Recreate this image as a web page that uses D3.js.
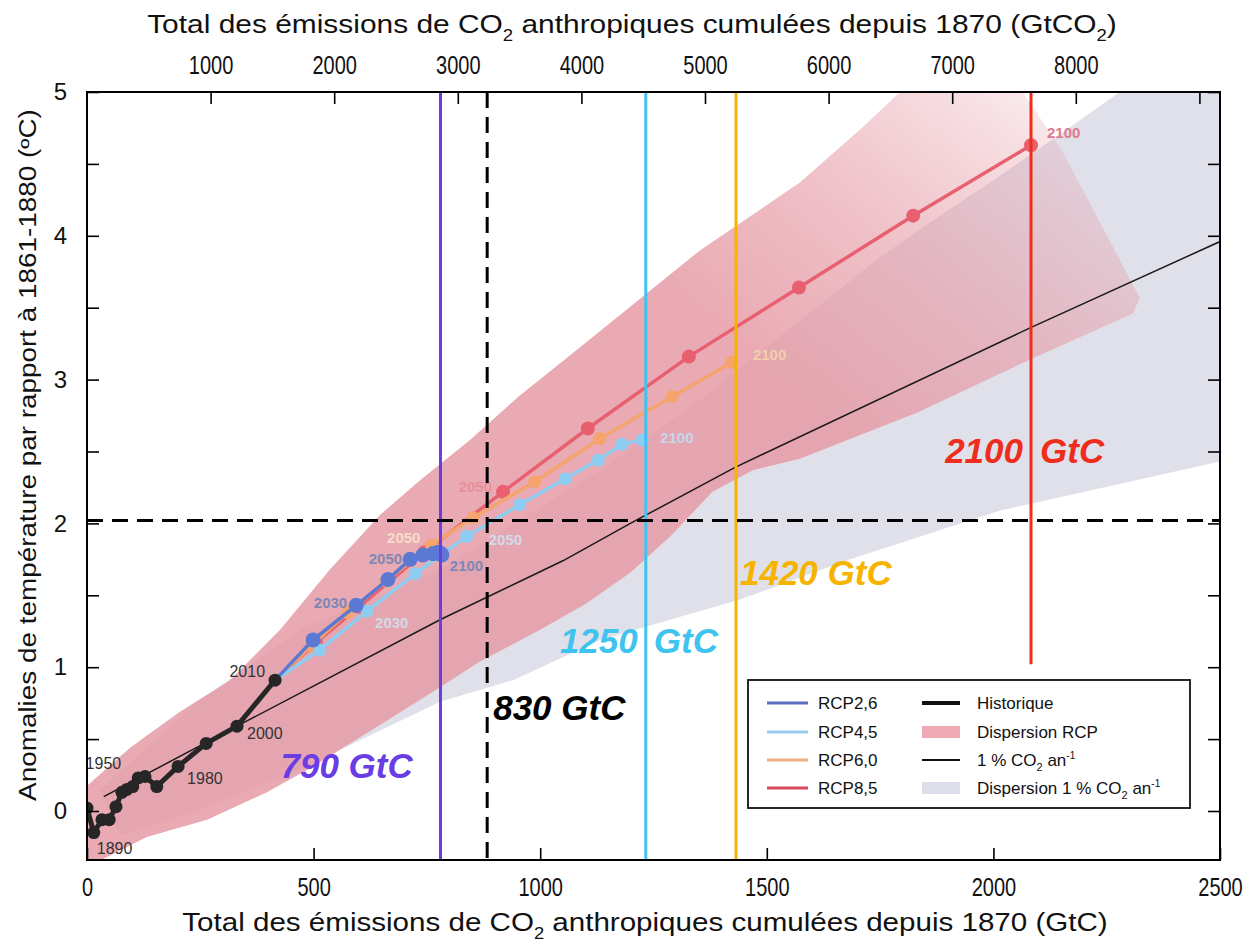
<!DOCTYPE html>
<html><head><meta charset="utf-8">
<script src="https://cdn.jsdelivr.net/npm/d3@7"></script>
<style>
body{margin:0;background:#fff;}
svg text{font-family:"Liberation Sans",Arial,sans-serif;}
</style></head><body>
<svg id="c" width="1258" height="948"></svg>
<script>
// ---------- DATA ----------
const xTicks=[0,500,1000,1500,2000,2500];
const yTicks=[0,1,2,3,4,5];
const yMinor=[0.5,1.5,2.5,3.5,4.5];
const co2Ticks=[1000,2000,3000,4000,5000,6000,7000,8000,9000];
const co2Labels=[1000,2000,3000,4000,5000,6000,7000,8000];

const histX=[0,15,33,49,64,77,88,101,113,128,154,201,263,331,415];
const histY=[0.02,-0.15,-0.06,-0.06,0.03,0.13,0.15,0.17,0.23,0.24,0.17,0.31,0.47,0.59,0.91];
const histLabelIdx=[1,8,11,13,14];
const histLabelTxt=['1890','1950','1980','2000','2010'];

const rcpYears=[2010,2020,2030,2040,2050,2060,2070,2080,2090,2100];
const rcp26X=[415,499,594,664,713,741,764,775,781,783];
const rcp26Y=[0.91,1.19,1.43,1.61,1.75,1.78,1.79,1.80,1.79,1.78];
const rcp45X=[415,514,618,724,838,955,1055,1128,1180,1225];
const rcp45Y=[0.91,1.12,1.39,1.65,1.91,2.13,2.31,2.44,2.55,2.58];
const rcp60X=[415,495,575,660,760,852,988,1132,1291,1423];
const rcp60Y=[0.91,1.15,1.38,1.60,1.85,2.04,2.29,2.59,2.88,3.12];
const rcp85X=[415,505,600,745,918,1105,1328,1571,1823,2083];
const rcp85Y=[0.91,1.17,1.42,1.80,2.22,2.66,3.16,3.64,4.14,4.63];

const onePctX=[37,331,779,1050,1205,1430,2081,2500];
const onePctY=[0.10,0.59,1.33,1.74,2.01,2.39,3.36,3.96];

// RCP dispersion plume (upper edge then lower edge back)
const rcpBandUpper=[[2,0.18],[95,0.44],[205,0.69],[316,0.91],[426,1.26],[536,1.68],[647,2.06],[735,2.30],[845,2.58],[955,2.89],[1066,3.17],[1176,3.45],[1353,3.90],[1573,4.37],[1706,4.74],[1794,5.0],[1900,5.3],[2000,5.3],[2150,4.6]];
const rcpBandLower=[[2323,3.57],[2308,3.46],[2081,3.14],[1831,2.77],[1573,2.45],[1469,2.37],[1380,2.22],[1290,1.92],[1200,1.66],[1100,1.44],[1000,1.26],[867,1.04],[779,0.86],[647,0.60],[499,0.31],[397,0.13],[265,-0.06],[132,-0.18],[44,-0.32],[18,-0.36],[2,-0.36]];
// 1% CO2 dispersion plume
const pctBandUpper=[[29,0.15],[249,0.77],[470,1.26],[779,1.68],[1132,2.37],[1353,2.86],[1573,3.41],[1750,3.85],[1882,4.14],[2015,4.42],[2162,4.74],[2279,5.0],[2500,5.0]];
const pctBandLower=[[2500,2.43],[2015,2.09],[1684,1.75],[1441,1.47],[1132,1.19],[940,0.91],[779,0.76],[647,0.56],[470,0.29],[249,0.01],[73,-0.17]];

const refValues=[780,883,1233,1432,2083];
const refNums=['790','830','1250','1420','2100'];
const refColors=['#6a3ce4','#000000','#3fc3ef','#f6b400','#ef2d1c'];
const refTopT=[5,5,5,5,5];
const refBottomT=[-0.34,-0.34,-0.34,-0.34,1.02];
const hLineT=2.02;

// ---------- SETUP ----------
const svg=d3.select('#c');
const L=87,R=1220,T=92,B=860;
const x=d3.scaleLinear().domain([0,2500]).range([L,R]);
const y=d3.scaleLinear().domain([0,5]).range([811,92]);
const xCO2=d3.scaleLinear().domain([0,2500*44/12]).range([L,R]);

const defs=svg.append('defs');
defs.append('clipPath').attr('id','clip').append('rect').attr('x',L).attr('y',T).attr('width',R-L).attr('height',B-T);
const grad=defs.append('linearGradient').attr('id','fade').attr('gradientUnits','userSpaceOnUse')
  .attr('x1',760).attr('y1',360).attr('x2',1010).attr('y2',60);
[[0,0.85],[0.45,0.62],[0.85,0.32],[1,0.18]].forEach(s=>grad.append('stop').attr('offset',s[0]).attr('stop-color','#e69ba6').attr('stop-opacity',s[1]));

const plot=svg.append('g').attr('clip-path','url(#clip)');
const poly=d3.line().x(d=>x(d[0])).y(d=>y(d[1])).curve(d3.curveLinearClosed);

plot.append('path').attr('d',poly(pctBandUpper.concat(pctBandLower))).attr('fill','#dfe0ea');
plot.append('path').attr('d',poly(rcpBandUpper.concat(rcpBandLower))).attr('fill','url(#fade)');

// 1% line
const ln=d3.line().x(d=>x(d[0])).y(d=>y(d[1]));
plot.append('path').attr('d',ln(onePctX.map((v,i)=>[v,onePctY[i]]))).attr('fill','none').attr('stroke','#1a1a1a').attr('stroke-width',1.5);

// RCP series
const series=[
 {X:rcp85X,Y:rcp85Y,c:'#e8606f',r:7,w:3.5},
 {X:rcp60X,Y:rcp60Y,c:'#f4a46c',r:6.5,w:3.5},
 {X:rcp45X,Y:rcp45Y,c:'#8ecdf2',r:6.5,w:3.5},
 {X:rcp26X,Y:rcp26Y,c:'#5b79d2',r:7.5,w:3.5}
];
series.forEach(s=>{
  const pts=s.X.map((v,i)=>[v,s.Y[i]]);
  const g=plot.append('g');
  g.append('path').attr('d',ln(pts)).attr('fill','none').attr('stroke',s.c).attr('stroke-width',s.w);
  g.selectAll('circle').data(pts.slice(1)).join('circle').attr('cx',d=>x(d[0])).attr('cy',d=>y(d[1])).attr('r',s.r).attr('fill',s.c);
});
// historical
const hp=histX.map((v,i)=>[v,histY[i]]);
plot.append('path').attr('d',ln(hp)).attr('fill','none').attr('stroke','#262626').attr('stroke-width',5).attr('stroke-linejoin','round');
plot.selectAll('circle.h').data(hp).join('circle').attr('class','h').attr('cx',d=>x(d[0])).attr('cy',d=>y(d[1])).attr('r',6.5).attr('fill','#262626');

// year labels
function yearLabel(px,py,txt,anchor,dx,dy,col,bold,fs){
  svg.append('text').attr('x',px+dx).attr('y',py+dy).attr('text-anchor',anchor).attr('font-size',fs||15)
    .attr('font-weight',bold?'bold':'normal').attr('fill',col).text(txt);
}
const histOff=[['start',3,21],['end',-17,-9],['start',9,18],['start',10,13],['end',-10,-3]];
histLabelIdx.forEach((idx,k)=>yearLabel(x(histX[idx]),y(histY[idx]),histLabelTxt[k],histOff[k][0],histOff[k][1],histOff[k][2],'#333',false,16));
function rcpLabel(X,Y,yr,anchor,dx,dy,col){const i=rcpYears.indexOf(yr);yearLabel(x(X[i]),y(Y[i]),String(yr),anchor,dx,dy,col,true,15);}
rcpLabel(rcp26X,rcp26Y,2030,'end',-9,3,'#7e87b8');
rcpLabel(rcp26X,rcp26Y,2050,'end',-8,5,'#7e87b8');
rcpLabel(rcp26X,rcp26Y,2100,'start',8,16,'#7e87b8');
rcpLabel(rcp45X,rcp45Y,2030,'start',8,17,'#d3d9e8');
rcpLabel(rcp45X,rcp45Y,2050,'start',22,9,'#d3d9e8');
rcpLabel(rcp45X,rcp45Y,2100,'start',18,3,'#c6d6ea');
rcpLabel(rcp60X,rcp60Y,2050,'end',-11,-2,'#f6dccb');
rcpLabel(rcp60X,rcp60Y,2100,'start',21,-2,'#f3cfae');
rcpLabel(rcp85X,rcp85Y,2050,'end',-11,0,'#e8909a');
rcpLabel(rcp85X,rcp85Y,2100,'start',16,-7,'#e2788a');

// reference lines
refValues.forEach((v,i)=>{
  svg.append('line').attr('x1',x(v)).attr('x2',x(v)).attr('y1',y(refTopT[i])).attr('y2',y(refBottomT[i]))
   .attr('stroke',refColors[i]).attr('stroke-width',3)
   .attr('stroke-dasharray',i===1?'16,9':null);
});
svg.append('line').attr('x1',L).attr('x2',R).attr('y1',y(hLineT)).attr('y2',y(hLineT)).attr('stroke','#000').attr('stroke-width',3).attr('stroke-dasharray','16,9');

// reference labels (bold italic)
function bigLabel(xx,yy,txt,col,anchor){svg.append('text').attr('x',xx).attr('y',yy).attr('text-anchor',anchor||'start').attr('font-size',35).attr('font-weight','bold').attr('font-style','italic').attr('fill',col).text(txt);}
bigLabel(x(refValues[0])-160,778,refNums[0]+' GtC',refColors[0]);
bigLabel(x(refValues[1])+6,720,refNums[1]+' GtC',refColors[1]);
bigLabel(x(refValues[2])-8,653,refNums[2],refColors[2],'end');
bigLabel(x(refValues[2])+8,653,'GtC',refColors[2]);
bigLabel(x(refValues[3])+4,585,refNums[3]+' GtC',refColors[3]);
bigLabel(x(refValues[4])-8,463,refNums[4],refColors[4],'end');
bigLabel(x(refValues[4])+9,463,'GtC',refColors[4]);

// ---------- AXES ----------
function styleAxis(g){g.select('.domain').remove();g.selectAll('line').attr('stroke','#000').attr('stroke-width',1.6);}
const axB=svg.append('g').attr('transform',`translate(0,${B})`).call(d3.axisBottom(x).tickValues(xTicks).tickSize(-12).tickPadding(18).tickFormat(d3.format('d')));
const axT=svg.append('g').attr('transform',`translate(0,${T})`).call(d3.axisTop(xCO2).tickValues(co2Ticks).tickSize(-12).tickPadding(18).tickFormat(d=>co2Labels.includes(d)?d:''));
const axL=svg.append('g').attr('transform',`translate(${L},0)`).call(d3.axisLeft(y).tickValues(yTicks).tickSize(-12).tickPadding(20).tickFormat(d3.format('d')));
const axL2=svg.append('g').attr('transform',`translate(${L},0)`).call(d3.axisLeft(y).tickValues(yMinor).tickSize(-12).tickFormat(''));
const axR=svg.append('g').attr('transform',`translate(${R},0)`).call(d3.axisRight(y).tickValues(yTicks.concat(yMinor)).tickSize(-12).tickFormat(''));
[axB,axT,axL,axL2,axR].forEach(styleAxis);
[axB,axT].forEach(a=>a.selectAll('text').attr('font-size',25).attr('fill','#111').attr('transform','scale(0.8,1)').attr('x',0));
axL.selectAll('text').attr('font-size',24).attr('fill','#111');
svg.append('rect').attr('x',L).attr('y',T).attr('width',R-L).attr('height',B-T).attr('fill','none').attr('stroke','#000').attr('stroke-width',2);

// titles with subscripts
function rich(parts,size){
  const t=svg.append('text').attr('font-size',size).attr('fill','#111').attr('text-anchor','middle');
  parts.forEach(p=>{
    const s=t.append('tspan').text(p[0]);
    if(p[1]==='sub')s.attr('font-size',size*0.62).attr('dy',size*0.3);
    else if(p[1]==='back')s.attr('dy',-size*0.3);
  });
  return t;
}
function place(t,cx,cy,w,rot){
  t.attr('x',0).attr('y',0);
  const bw=t.node().getBBox().width;
  const k=w/bw;
  t.attr('transform',`translate(${cx},${cy})${rot?' rotate(-90)':''} scale(${k},1)`);
}
const tBot=rich([['Total des émissions de CO'],['2','sub'],[' anthropiques cumulées depuis 1870 (GtC)','back']],26);
place(tBot,645,931,926);
const tTop=rich([['Total des émissions de CO'],['2','sub'],[' anthropiques cumulées depuis 1870 (GtCO','back'],['2','sub'],[')','back']],26);
place(tTop,632,33,970);
const tY=rich([['Anomalies de température par rapport à 1861-1880 (ºC)']],23);
place(tY,36,455,692,true);

// ---------- LEGEND ----------
const lg=svg.append('g');
lg.append('rect').attr('x',748).attr('y',680).attr('width',442).attr('height',128).attr('fill','#fff').attr('stroke','#111').attr('stroke-width',1.8);
const rowsY=[703,732,760,788];
const leftNames=['RCP2,6','RCP4,5','RCP6,0','RCP8,5'];
const leftCols=['#5b6fc0','#9ccdee','#f0b080','#d8485f'];
leftNames.forEach((n,i)=>{
  lg.append('line').attr('x1',767).attr('x2',808).attr('y1',rowsY[i]).attr('y2',rowsY[i]).attr('stroke',leftCols[i]).attr('stroke-width',3);
  lg.append('text').attr('x',818).attr('y',rowsY[i]+6).attr('font-size',17).attr('fill','#111').text(n);
});
lg.append('line').attr('x1',922).attr('x2',960).attr('y1',rowsY[0]).attr('y2',rowsY[0]).attr('stroke','#111').attr('stroke-width',4);
lg.append('rect').attr('x',922).attr('y',rowsY[1]-6).attr('width',38).attr('height',12).attr('fill','#eeaab4');
lg.append('line').attr('x1',922).attr('x2',960).attr('y1',rowsY[2]).attr('y2',rowsY[2]).attr('stroke','#111').attr('stroke-width',2);
lg.append('rect').attr('x',922).attr('y',rowsY[3]-6).attr('width',38).attr('height',12).attr('fill','#dcdfe9');
function lgText(yy,parts){
  const t=lg.append('text').attr('x',977).attr('y',yy+6).attr('font-size',17).attr('fill','#111');
  parts.forEach(p=>{const s=t.append('tspan').text(p[0]);
    if(p[1]==='sub')s.attr('font-size',11).attr('dy',5);
    if(p[1]==='back')s.attr('dy',-5);
    if(p[1]==='sup')s.attr('font-size',10).attr('dy',-7);});
}
lgText(rowsY[0],[['Historique']]);
lgText(rowsY[1],[['Dispersion RCP']]);
lgText(rowsY[2],[['1 % CO'],['2','sub'],[' an','back'],['-1','sup']]);
lgText(rowsY[3],[['Dispersion 1 % CO'],['2','sub'],[' an','back'],['-1','sup']]);
</script>
</body></html>
